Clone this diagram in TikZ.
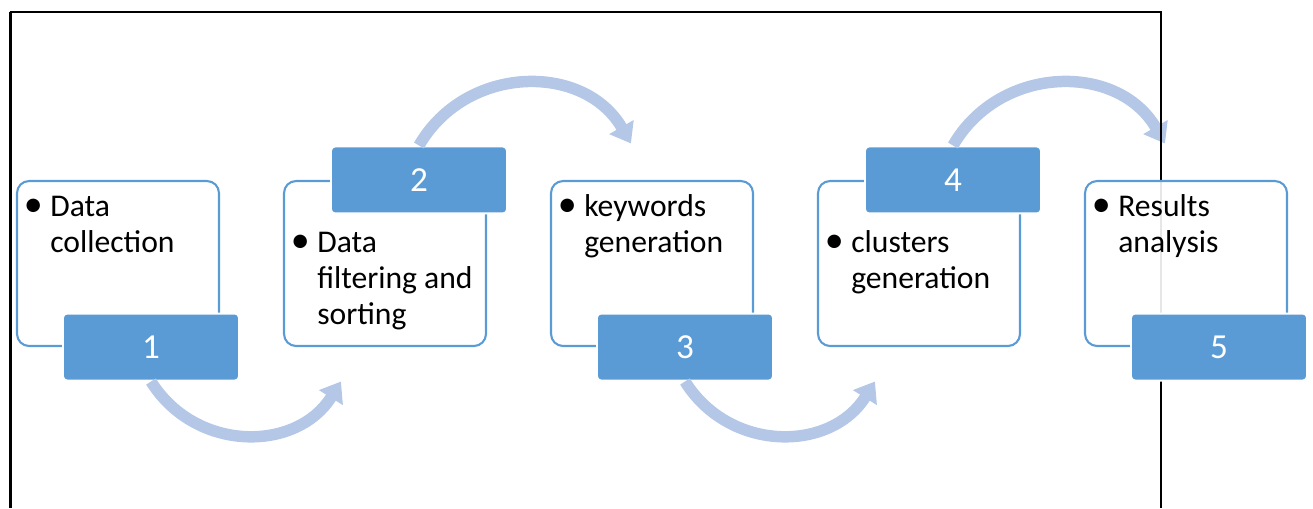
\documentclass[tikz,border=0pt]{standalone}
\usepackage{fontspec}
\setmainfont{Carlito}
\usepackage{xcolor}
\usetikzlibrary{arrows.meta,positioning}
\definecolor{tabblue}{HTML}{5B9BD5}
\definecolor{flowblue}{HTML}{B4C7E7}
\newcommand{\bul}{\makebox[0.68cm]{\scalebox{1.2}{\textbullet}}}

\begin{document}
\begin{tikzpicture}[x=0.02cm, y=0.02cm,
  panel/.style={
    draw=tabblue, line width=1.2pt, rounded corners=0.24cm,
    fill=white, fill opacity=0.9,
    minimum width=4.04cm, minimum height=3.3cm},
  tab/.style={
    draw=white, line width=1.1pt, rounded corners=0.08cm,
    fill=tabblue, text=white,
    minimum width=3.52cm, minimum height=1.34cm,
    font=\fontsize{20}{24}\selectfont},
  entry/.style={anchor=base west, inner sep=0pt,
    font=\fontsize{18}{20.4}\selectfont},
  flow/.style={-{Triangle[length=0.38cm, width=0.54cm]},
    line width=0.23cm, draw=flowblue, looseness=1.13}]

\useasboundingbox (0,0) rectangle (1313,-508);

% Step panels
\node[panel] (p1) at (118,-263.5) {};
\node[panel] (p2) at (385,-263.5) {};
\node[panel] (p3) at (652,-263.5) {};
\node[panel] (p4) at (919,-263.5) {};

% Number tabs, alternating bottom / top
\node[tab] (n1) at ([xshift=0.66cm]p1.south) {1};
\node[tab] (n2) at ([xshift=0.68cm]p2.north) {2};
\node[tab] (n3) at ([xshift=0.66cm]p3.south) {3};
\node[tab] (n4) at ([xshift=0.68cm]p4.north) {4};

% Arrow end points
\coordinate (e1) at ([xshift=3.8cm]n1.south);
\coordinate (e2) at ([xshift=4.24cm,yshift=0.04cm]n2.north);
\coordinate (e3) at ([xshift=3.8cm]n3.south);
\coordinate (e4) at ([xshift=4.24cm,yshift=0.04cm]n4.north);

% Curved arrows, behind the tabs
\draw[flow] (n1.south) to[out=-58, in=-122] (e1);
\draw[flow] (n2.north) to[out=60, in=120] (e2);
\draw[flow] (n3.south) to[out=-58, in=-122] (e3);
\draw[flow] (n4.north) to[out=60, in=120] (e4);

% Frame
\draw[line width=1.6pt] (10.5,-508) -- (10.5,-12);
\draw[line width=1.1pt] (9.5,-12) -- (1161,-12) -- (1161,-508);

% Last step drawn over the frame
\node[panel] (p5) at (1186,-263.5) {};
\node[tab] (n5) at ([xshift=0.66cm]p5.south) {5};

% Step texts
\node[entry] (t1) at ([yshift=-0.74cm]p1.north west)
  {\begin{tabular}[t]{@{}l@{}l@{}}\bul & Data\\ & collection\end{tabular}};
\node[entry] (t2) at ([yshift=-1.46cm]p2.north west)
  {\begin{tabular}[t]{@{}l@{}l@{}}\bul & Data\\ & filtering and\\ & sorting\end{tabular}};
\node[entry] (t3) at ([yshift=-0.74cm]p3.north west)
  {\begin{tabular}[t]{@{}l@{}l@{}}\bul & keywords\\ & generation\end{tabular}};
\node[entry] (t4) at ([yshift=-1.46cm]p4.north west)
  {\begin{tabular}[t]{@{}l@{}l@{}}\bul & clusters\\ & generation\end{tabular}};
\node[entry] (t5) at ([yshift=-0.74cm]p5.north west)
  {\begin{tabular}[t]{@{}l@{}l@{}}\bul & Results\\ & analysis\end{tabular}};

\end{tikzpicture}
\end{document}
